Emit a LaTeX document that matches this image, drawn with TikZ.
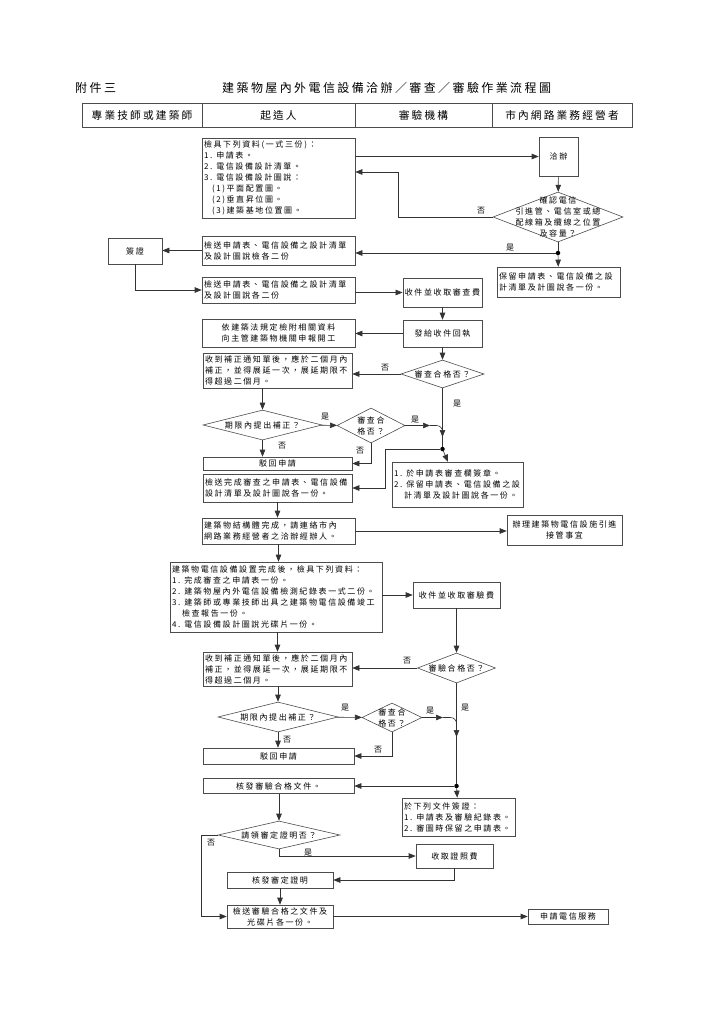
\documentclass[tikz,border=0pt]{standalone}
\usepackage{fontspec}
\setmainfont{Noto Sans CJK TC}[LetterSpace=20]
\usetikzlibrary{shapes.geometric,arrows.meta}

\begin{document}
\begin{tikzpicture}[x=1pt, y=-1pt,
  >={Triangle[length=7pt,width=5.5pt]},
  conn/.style={black!80, line width=0.6pt},
  ttl/.style={font=\fontsize{12}{14}\selectfont, inner sep=0pt},
  hcell/.style={draw=black!70, line width=0.6pt, minimum height=24pt, inner sep=0pt, font=\fontsize{10.7}{13}\selectfont},
  box/.style={draw=black!70, line width=0.6pt, inner xsep=2pt, inner ysep=1pt, font=\fontsize{8}{11}\selectfont},
  lbox/.style={box, align=left, text width=#1},
  cbox/.style={box, align=center},
  dia/.style={diamond, draw=black!70, line width=0.6pt, inner sep=0pt},
  dtext/.style={font=\fontsize{8}{11}\selectfont, align=center, inner sep=0pt},
  lab/.style={font=\fontsize{8}{11}\selectfont, inner sep=0pt},
  jdot/.style={circle, fill=black, inner sep=0pt, minimum size=4.5pt}]

\useasboundingbox (0,0) rectangle (720,1018);

% title and lanes
\node[ttl, anchor=west] (annex) at (75,88) {附件三};
\node[ttl, anchor=west] (title) at (222,88) {建築物屋內外電信設備洽辦／審查／審驗作業流程圖};
\node[hcell, minimum width=120pt] (hdpro) at (142,115) {專業技師或建築師};
\node[hcell, minimum width=153pt] (hdown) at (278.5,115) {起造人};
\node[hcell, minimum width=137pt] (hdinsp) at (423.5,115) {審驗機構};
\node[hcell, minimum width=140pt] (hdnet) at (562,115) {市內網路業務經營者};

% application
\node[lbox=149pt, minimum height=80pt] (docs) at (278.5,178) {檢具下列資料(一式三份)：\\1. 申請表。\\2. 電信設備設計清單。\\3. 電信設備設計圖說：\\\hspace*{8pt}(1)平面配置圖。\\\hspace*{8pt}(2)垂直昇位圖。\\\hspace*{8pt}(3)建築基地位置圖。};
\node[cbox, minimum width=39pt, minimum height=39pt] (qiab) at (558.5,156.5) {洽辦};
\node[dia, minimum width=130pt, minimum height=50pt, label={[dtext]center:確認電信\\引進管、電信室或總\\配線箱及纜線之位置\\及容量？}] (chka) at (558,217) {};
\node[jdot] (ja) at (558,253) {};
\node[lbox=119pt, minimum height=30pt] (keep) at (558.5,282) {保留申請表、電信設備之設\\計清單及計圖說各一份。};
\node[lbox=149pt, minimum height=29pt] (senda) at (278.5,250.5) {檢送申請表、電信設備之設計清單\\及設計圖說檢各二份};
\node[cbox, minimum width=54pt, minimum height=26pt] (sign) at (135,251) {簽證};
\node[lbox=149pt, minimum height=26pt] (sendb) at (278.5,290) {檢送申請表、電信設備之設計清單\\及設計圖說各二份};
\node[cbox, minimum width=79pt, minimum height=29pt] (feea) at (442.5,292.5) {收件並收取審查費};
\node[cbox, minimum width=79pt, minimum height=27pt] (recp) at (442.5,333.5) {發給收件回執};
\node[cbox, minimum width=153pt, minimum height=28pt] (rept) at (278.5,333) {依建築法規定檢附相關資料\\向主管建築物機關申報開工};

% review
\node[dia, minimum width=83pt, minimum height=28pt, label={[dtext]center:審查合格否？}] (chkb) at (442.5,374) {};
\node[lbox=145pt, minimum height=35pt] (fixa) at (277.5,370.5) {收到補正通知單後，應於二個月內\\補正，並得展延一次，展延期限不\\得超過二個月。};
\node[dia, minimum width=119pt, minimum height=30pt, label={[dtext]center:期限內提出補正？}] (timea) at (262.5,425) {};
\node[dia, minimum width=68pt, minimum height=35pt, label={[dtext]center:審查合\\格否？}] (chkc) at (371,425.5) {};
\node[cbox, minimum width=149pt, minimum height=13pt] (rejecta) at (277.5,463.5) {駁回申請};
\node[jdot] (jb) at (442.5,449) {};
\node[lbox=127pt, minimum height=45pt] (stamp) at (457.5,484.5) {1. 於申請表審查欄簽章。\\2. 保留申請表、電信設備之設\\\hspace*{10pt}計清單及設計圖說各一份。};
\node[lbox=145pt, minimum height=28pt] (retn) at (277.5,488) {檢送完成審查之申請表、電信設備\\設計清單及設計圖說各一份。};
\coordinate (ta) at (442.5,437);
\coordinate (ma) at (430,425.5);
\coordinate (mb) at (442.5,440);

% construction
\node[lbox=149pt, minimum height=26pt] (built) at (278.5,531) {建築物結構體完成，請連絡市內\\網路業務經營者之洽辦經辦人。};
\node[cbox, minimum width=115pt, minimum height=30pt] (pipe) at (564.5,530) {辦理建築物電信設施引進\\接管事宜};
\node[lbox=208pt, minimum height=70pt] (done) at (276,597) {建築物電信設備設置完成後，檢具下列資料：\\1. 完成審查之申請表一份。\\2. 建築物屋內外電信設備檢測紀錄表一式二份。\\3. 建築師或專業技師出具之建築物電信設備竣工\\\hspace*{10pt}檢查報告一份。\\4. 電信設備設計圖說光碟片一份。};
\node[cbox, minimum width=87pt, minimum height=26pt] (feeb) at (456.5,595) {收件並收取審驗費};

% inspection
\node[dia, minimum width=78pt, minimum height=30pt, label={[dtext]center:審驗合格否？}] (chkd) at (456.5,668) {};
\node[lbox=145pt, minimum height=34pt] (fixb) at (277.5,669) {收到補正通知單後，應於二個月內\\補正，並得展延一次，展延期限不\\得超過二個月。};
\node[dia, minimum width=120pt, minimum height=30pt, label={[dtext]center:期限內提出補正？}] (timeb) at (278,717) {};
\node[dia, minimum width=60pt, minimum height=29pt, label={[dtext]center:審查合\\格否？}] (chke) at (392,717.5) {};
\node[cbox, minimum width=151pt, minimum height=16pt] (rejectb) at (278.5,756) {駁回申請};
\node[cbox, minimum width=151pt, minimum height=15pt] (pass) at (278.5,786) {核發審驗合格文件。};
\node[jdot] (jc) at (456.5,786) {};
\node[lbox=109pt, minimum height=38pt] (endorse) at (458.5,817) {於下列文件簽證：\\1. 申請表及審驗紀錄表。\\2. 審圖時保留之申請表。};
\coordinate (tb) at (456.5,737);
\coordinate (mc) at (443,717.5);
\coordinate (md) at (456.5,731);

% certificate
\node[dia, minimum width=122pt, minimum height=28pt, label={[dtext]center:請領審定證明否？}] (cert) at (279,835) {};
\node[cbox, minimum width=77pt, minimum height=24pt] (certfee) at (454.5,856) {收取證照費};
\node[cbox, minimum width=106pt, minimum height=16pt] (issue) at (280,880) {核發審定證明};
\node[cbox, minimum width=106pt, minimum height=23pt] (sendc) at (280,916.5) {檢送審驗合格之文件及\\光碟片各一份。};
\node[cbox, minimum width=80pt, minimum height=15pt] (service) at (568,916.5) {申請電信服務};

% labels
\node[lab] (noa) at (481,211) {否};
\node[lab] (yesa) at (510,248) {是};
\node[lab] (nob) at (385,368) {否};
\node[lab] (yesb) at (457,404) {是};
\node[lab] (yesc) at (325,417) {是};
\node[lab] (yesd) at (415,420) {是};
\node[lab] (noc) at (282,446) {否};
\node[lab] (nod) at (360,451) {否};
\node[lab] (noe) at (407,661) {否};
\node[lab] (yese) at (465,708) {是};
\node[lab] (yesf) at (345,708) {是};
\node[lab] (yesg) at (430,711) {是};
\node[lab] (nof) at (287,740) {否};
\node[lab] (nog) at (378,750) {否};
\node[lab] (noh) at (211,843) {否};
\node[lab] (yesh) at (308,853) {是};

% connectors
\draw[conn,->] (docs.east |- qiab) -- (qiab);
\draw[conn,->] (qiab) -- (chka);
\draw[conn,->] (chka.west) -- (398,217) |- ([yshift=6pt]docs.east);
\draw[conn] (chka) -- (ja);
\draw[conn,->] (ja) -- (keep);
\draw[conn,->] (ja) -- (ja -| senda.east);
\draw[conn,->] (senda.west) -- (senda.west -| sign.east);
\draw[conn,->] (sign) |- (sendb);
\draw[conn,->] (sendb.east |- feea) -- (feea);
\draw[conn,->] (feea) -- (recp);
\draw[conn,->] (recp) -- (recp -| rept.east);
\draw[conn,->] (recp) -- (chkb);
\draw[conn,->] (chkb) -- (chkb -| fixa.east);
\draw[conn] (chkb) -- (jb);
\draw[conn,->] (chkb) -- (ta);
\draw[conn,->] (jb) -- (stamp);
\draw[conn,->] (jb) -- (385,449) |- (retn);
\draw[conn,->] (fixa.south -| timea) -- (timea);
\draw[conn,->] (timea) -- (chkc);
\draw[conn,->] (chkc) -- (ma);
\draw[conn, rounded corners=6pt] (ma) -| (mb);
\draw[conn,->] (timea.south) -- (timea.south |- rejecta.north);
\draw[conn,->] (chkc.south) |- (rejecta.east);
\draw[conn,->] (retn.south) -- (retn.south |- built.north);
\draw[conn,->] (built.east) -- (built.east -| pipe.west);
\draw[conn,->] (built.south) -- (built.south |- done.north);
\draw[conn,->] (done.east |- feeb) -- (feeb);
\draw[conn,->] (feeb) -- (chkd);
\draw[conn,->] (fixb.north |- done.south) -- (fixb.north);
\draw[conn,->] (chkd) -- (chkd -| fixb.east);
\draw[conn] (chkd) -- (jc);
\draw[conn,->] (chkd) -- (tb);
\draw[conn,->] (fixb.south -| timeb) -- (timeb);
\draw[conn,->] (timeb) -- (chke);
\draw[conn,->] (chke) -- (mc);
\draw[conn, rounded corners=6pt] (mc) -| (md);
\draw[conn,->] (timeb.south) -- (timeb.south |- rejectb.north);
\draw[conn,->] (chke.south) |- (rejectb.east);
\draw[conn,->] (jc) -- (jc -| pass.east);
\draw[conn,->] (jc) -- (endorse);
\draw[conn,->] (cert.north |- pass.south) -- (cert.north);
\draw[conn,->] (cert.west) -- (201,835) |- (sendc.west);
\draw[conn,->] (cert.south) |- (certfee.west);
\draw[conn,->] (certfee.south) |- (issue.east);
\draw[conn,->] (issue) -- (sendc);
\draw[conn,->] (sendc) -- (service);

\end{tikzpicture}
\end{document}
